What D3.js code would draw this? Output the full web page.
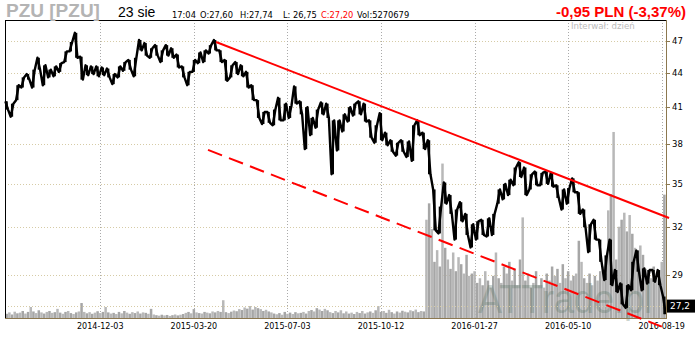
<!DOCTYPE html>
<html>
<head>
<meta charset="utf-8">
<script src="https://cdn.jsdelivr.net/npm/d3@7"></script>
<style>
  body { margin: 0; background: #fff; }
  svg { display: block; font-family: "DejaVu Sans", sans-serif; }
</style>
</head>
<body>
<svg id="chart" width="700" height="340"></svg>
<script>
// PZU - notowania dzienne, zgrupowane po 4 sesje (min / max w oknie)
var lows = [40.8, 40.2, 41.6, 42.7, 43.4, 42.7, 44.3, 42.9, 43.6, 43.7, 44.1, 45.0, 46.0, 45.4, 43.4, 43.8,
  43.9, 43.7, 43.8, 43.6, 43.0, 43.6, 44.2, 44.3, 43.7, 46.1, 45.6, 45.4, 45.6, 45.0, 45.6, 45.4,
  44.5, 43.6, 42.9, 44.1, 44.9, 45.0, 45.8, 46.1, 45.0, 43.3, 43.6, 43.9, 43.7, 42.7, 41.6, 40.1,
  39.6, 39.7, 39.5, 39.9, 39.9, 40.1, 41.3, 40.4, 37.6, 38.7, 39.3, 40.4, 40.1, 35.7, 37.5, 39.0,
  39.8, 40.3, 40.4, 39.8, 38.5, 38.1, 38.3, 37.9, 37.4, 37.1, 37.4, 37.0, 36.7, 38.7, 37.6, 35.7,
  31.8, 31.6, 33.6, 32.9, 31.2, 32.4, 31.5, 30.7, 31.2, 31.5, 31.4, 31.5, 33.6, 33.9, 34.2, 34.9,
  35.5, 34.2, 34.6, 34.9, 34.9, 35.0, 34.8, 34.0, 33.2, 33.6, 34.4, 32.9, 32.0, 30.4, 31.2, 29.8,
  28.7, 28.4, 28.0, 27.3, 27.1, 28.1, 29.2, 28.1, 28.5, 28.6, 28.4, 26.75];
var highs = [41.5, 41.3, 42.9, 43.6, 43.9, 44.3, 45.4, 44.7, 44.3, 44.6, 44.9, 46.0, 46.9, 47.8, 45.5, 44.7,
  44.6, 44.6, 44.5, 44.4, 43.9, 44.6, 45.0, 45.2, 45.4, 47.1, 46.8, 46.3, 46.6, 46.1, 46.6, 46.3,
  45.7, 44.6, 44.1, 45.2, 45.9, 46.1, 46.6, 47.1, 46.1, 45.2, 44.7, 45.0, 44.7, 44.1, 42.9, 41.6,
  40.6, 40.6, 40.8, 41.8, 41.3, 41.1, 42.8, 41.5, 41.0, 40.1, 40.8, 41.4, 41.3, 39.9, 39.9, 40.4,
  41.0, 41.3, 41.5, 41.3, 39.9, 39.5, 40.5, 38.9, 38.3, 38.1, 38.3, 38.2, 39.5, 39.9, 38.9, 38.3,
  34.6, 33.4, 35.1, 34.2, 33.2, 33.7, 32.9, 32.2, 32.4, 32.5, 32.6, 32.9, 34.6, 35.0, 35.3, 36.2,
  36.6, 36.2, 35.7, 35.9, 35.8, 35.9, 35.8, 34.9, 34.6, 34.7, 35.4, 34.4, 33.2, 32.2, 32.5, 31.2,
  30.2, 31.2, 29.3, 28.5, 28.4, 29.8, 30.5, 29.4, 29.3, 29.3, 29.3, 27.74];

// wolumen co druga sesja (tys. akcji); od listopada 2015 po splicie 1:10
var volumes = [180, 240, 150, 270, 200, 230, 300, 190, 260, 470,
  280, 210, 330, 240, 190, 260, 300, 220, 250, 390,
  230, 180, 260, 300, 210, 170, 240, 280, 640, 260,
  200, 250, 180, 230, 290, 210, 260, 470, 240, 190,
  220, 170, 260, 200, 300, 230, 180, 250, 210, 280,
  190, 240, 220, 180, 390, 150, 120, 100, 140, 110,
  130, 90, 120, 150, 110, 140, 170, 220, 260, 200,
  380, 240, 210, 190, 260, 230, 200, 280, 240, 300,
  260, 760, 250, 210, 270, 320, 290, 380, 340, 450,
  400, 510, 360, 470, 420, 380, 300, 350, 280, 240,
  190, 160, 210, 140, 260, 180, 230, 170, 250, 200,
  220, 260, 190, 300, 340, 280, 420, 360, 300, 390,
  330, 250, 210, 300, 240, 330, 200, 280, 190, 230,
  170, 260, 210, 300, 190, 240, 280, 220, 330, 510,
  260, 300, 220, 350, 250, 190, 280, 230, 310, 270,
  240, 330, 290, 360, 250, 300, 280,
  4200, 4900, 3800, 2400, 2900, 2200, 6600,
  3000, 2500, 2100, 2800, 2000, 2600, 2300, 1900, 2700, 1800, 1900,
  2000, 1500, 1700, 1400, 2000, 1600, 1300, 1800, 2800, 1700, 1500,
  2200, 1900, 2400, 1600, 2100, 1400, 2500, 4300,
  1600, 1900, 1300, 1500, 2000, 1400, 1700, 1300, 1900, 1600, 2200, 1800, 2100, 1500, 2300, 1700, 2000, 1600, 1800,
  1900, 3300, 2400,
  1700, 1500, 1900, 1400, 1800, 1600, 2000, 2200, 1900,
  4600, 5300, 7950, 2500,
  3900, 4200, 4500, 3700, 4400, 3600,
  3000, 2900, 3100, 2700,
  2100, 1900, 1700, 2200, 1800, 1600,
  2400, 5271];

var yTicks = [47, 44, 41, 38, 35, 32, 29];
var xTickIdx = [70, 140, 210, 280, 350, 420, 490];
var xTickLabels = ["2014-12-03", "2015-03-20", "2015-07-03", "2015-10-12", "2016-01-27", "2016-05-10", "2016-08-19"];
var lastPrice = 27.2;

// linie trendu: [nr sesji, cena]
var trendTop = [[156.6, 46.9], [495.5, 32.62]];
var trendBottom = [[150.6, 37.54], [490, 26.07]];

var svg = d3.select("#chart");
var pLeft = 5, pRight = 666, pTop = 20, pBottom = 318;
var brown = "#8c7850";

var x = d3.scaleLinear().domain([0, 492]).range([6.7, 664.4]);
var y = d3.scaleLog().domain([26.54, 49.08]).range([pBottom, pTop]);
var yVol = d3.scaleLinear().domain([0, 12735]).range([pBottom, pTop]);

// siatka
svg.selectAll(".hgrid")
  .data(yTicks)
  .enter()
  .append("line")
    .attr("x1", pLeft).attr("x2", pRight)
    .attr("y1", function(d) { return Math.round(y(d)) + 0.5; })
    .attr("y2", function(d) { return Math.round(y(d)) + 0.5; })
    .attr("stroke", "#d6cba6")
    .attr("stroke-dasharray", "1,2");

svg.selectAll(".vgrid")
  .data(xTickIdx)
  .enter()
  .append("line")
    .attr("x1", function(d) { return Math.round(x(d)) + 0.5; })
    .attr("x2", function(d) { return Math.round(x(d)) + 0.5; })
    .attr("y1", pTop).attr("y2", pBottom)
    .attr("stroke", "#aaa")
    .attr("stroke-dasharray", "1,2");

// wolumen
svg.selectAll(".vol")
  .data(volumes)
  .enter()
  .append("rect")
    .attr("x", function(d, i) { return x(i * 2) - 1.25; })
    .attr("y", function(d) { return yVol(d); })
    .attr("width", 2.5)
    .attr("height", function(d) { return pBottom - yVol(d); })
    .attr("fill", function(d, i) { return i % 2 ? "#b8b8b8" : "#a6a6a6"; });

// znak wodny
svg.append("text")
  .attr("x", 478).attr("y", 313)
  .attr("textLength", 174)
  .attr("lengthAdjust", "spacingAndGlyphs")
  .style("font-family", "'Liberation Sans', Arial, sans-serif")
  .style("font-size", "40px")
  .attr("fill", "#4a6a5a")
  .attr("opacity", 0.28)
  .text("ATTrade.pl");

// ostatni kurs
svg.append("line")
  .attr("x1", pLeft).attr("x2", pRight)
  .attr("y1", Math.round(y(lastPrice)) + 0.5)
  .attr("y2", Math.round(y(lastPrice)) + 0.5)
  .attr("stroke", "#d6cba6")
  .attr("stroke-dasharray", "1,2");

// kurs: słupki min-max w oknie
svg.selectAll(".hl")
  .data(lows)
  .enter()
  .append("line")
    .attr("x1", function(d, k) { return x(k * 4); })
    .attr("x2", function(d, k) { return x(k * 4); })
    .attr("y1", function(d) { return y(d); })
    .attr("y2", function(d, k) { return y(highs[k]); })
    .attr("stroke", "#000")
    .attr("stroke-width", 2.2);

// linia: w każdym oknie od min do max (lub odwrotnie, zgodnie z kierunkiem ruchu)
var pts = [];
lows.forEach(function(lo, k) {
  var hi = highs[k];
  var mid = (lo + hi) / 2;
  var j = k < lows.length - 1 ? k + 1 : k - 1;
  var nextMid = (lows[j] + highs[j]) / 2;
  var up = k < lows.length - 1 ? nextMid > mid : nextMid < mid;
  var a = up ? lo : hi, b = up ? hi : lo;
  pts.push([x(k * 4 - 1), y(a)]);
  pts.push([x(k * 4 + 1), y(b)]);
});

svg.append("path")
  .attr("d", d3.line()(pts))
  .attr("fill", "none")
  .attr("stroke", "#000")
  .attr("stroke-width", 2.4)
  .attr("stroke-linejoin", "round");

// ramka
svg.append("line").attr("x1", pLeft + 0.5).attr("x2", pLeft + 0.5).attr("y1", pTop).attr("y2", pBottom).attr("stroke", "#000");
svg.append("line").attr("x1", pLeft).attr("x2", pRight).attr("y1", pTop + 0.5).attr("y2", pTop + 0.5).attr("stroke", "#000");
svg.append("line").attr("x1", pRight + 0.5).attr("x2", pRight + 0.5).attr("y1", pTop).attr("y2", pBottom + 1).attr("stroke", brown);
svg.append("line").attr("x1", pLeft).attr("x2", pRight + 1).attr("y1", pBottom + 0.5).attr("y2", pBottom + 0.5).attr("stroke", brown);

// oś Y
svg.selectAll(".ytick")
  .data(yTicks)
  .enter()
  .append("line")
    .attr("x1", pRight).attr("x2", pRight + 4)
    .attr("y1", function(d) { return Math.round(y(d)) + 0.5; })
    .attr("y2", function(d) { return Math.round(y(d)) + 0.5; })
    .attr("stroke", brown);

svg.selectAll(".ylab")
  .data(yTicks)
  .enter()
  .append("text")
    .attr("x", 672)
    .attr("y", function(d) { return y(d); })
    .attr("dy", "0.35em")
    .style("font-size", "8.5px")
    .text(function(d) { return d; });

svg.append("rect")
  .attr("x", 667).attr("y", y(lastPrice) - 6.5)
  .attr("width", 28).attr("height", 13)
  .attr("fill", "#000");
svg.append("text")
  .attr("x", 670).attr("y", y(lastPrice))
  .attr("dy", "0.35em")
  .style("font-size", "9px")
  .attr("fill", "#fff")
  .text(String(lastPrice).replace(".", ","));

// oś X
svg.selectAll(".xlab")
  .data(xTickIdx)
  .enter()
  .append("text")
    .attr("x", function(d) { return x(d); })
    .attr("y", 329)
    .attr("text-anchor", "middle")
    .style("font-size", "8px")
    .text(function(d, i) { return xTickLabels[i]; });

// nagłówek
svg.append("text")
  .attr("x", 6).attr("y", 17)
  .style("font-family", "'Liberation Sans', Arial, sans-serif")
  .style("font-size", "19px").style("font-weight", "bold")
  .attr("fill", "#b4b4b4")
  .text("PZU [PZU]");

svg.append("text")
  .attr("x", 118).attr("y", 17)
  .style("font-family", "'Liberation Sans', Arial, sans-serif")
  .style("font-size", "14px")
  .text("23 sie");

var info = [["17:04", 172, "#000"], ["O:27,60", 200, "#000"], ["H:27,74", 240, "#000"],
  ["L: 26,75", 283, "#000"], ["C:27,20", 321, "#f00"], ["Vol:5270679", 357, "#000"]];
svg.selectAll(".info")
  .data(info)
  .enter()
  .append("text")
    .attr("x", function(d) { return d[1]; })
    .attr("y", 18)
    .style("font-size", "8.3px")
    .attr("fill", function(d) { return d[2]; })
    .text(function(d) { return d[0]; });

svg.append("text")
  .attr("x", 686).attr("y", 17)
  .attr("text-anchor", "end")
  .style("font-family", "'Liberation Sans', Arial, sans-serif")
  .style("font-size", "15px").style("font-weight", "bold")
  .attr("fill", "#f00")
  .text("-0,95 PLN (-3,37%)");

svg.append("text")
  .attr("x", 571).attr("y", 29)
  .style("font-size", "8.6px")
  .attr("fill", "#bbb")
  .text("Interwał: dzień");

// linie trendu
svg.append("line")
  .attr("x1", x(trendTop[0][0])).attr("y1", y(trendTop[0][1]))
  .attr("x2", x(trendTop[1][0])).attr("y2", y(trendTop[1][1]))
  .attr("stroke", "#f00")
  .attr("stroke-width", 2);

svg.append("line")
  .attr("x1", x(trendBottom[0][0])).attr("y1", y(trendBottom[0][1]))
  .attr("x2", x(trendBottom[1][0])).attr("y2", y(trendBottom[1][1]))
  .attr("stroke", "#f00")
  .attr("stroke-width", 2)
  .attr("stroke-dasharray", "15,7.5");
</script>
</body>
</html>
